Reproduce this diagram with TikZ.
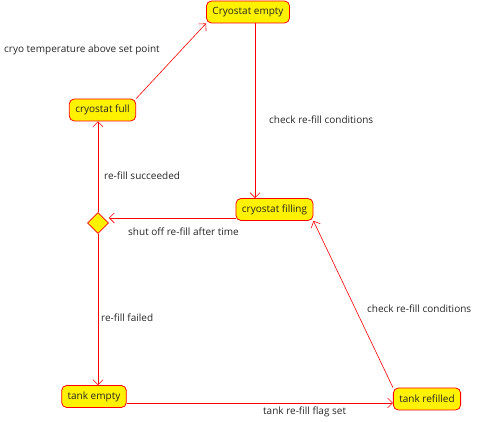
\documentclass[tikz,border=0pt]{standalone}
\usepackage{fontspec}
\setmainfont{Open Sans}
\usetikzlibrary{shapes.geometric,arrows.meta}

\tikzset{
    state/.style={rectangle, rounded corners=5pt, draw=red, fill=yellow, line width=0.8pt,
        minimum height=22pt, inner xsep=6pt, text=black!85},
    choicebox/.style={diamond, draw=red, fill=yellow, line width=0.8pt, minimum size=21pt, inner sep=0pt},
    edge/.style={red, line width=0.6pt, -{Straight Barb[length=5pt,width=10pt]}},
    lbl/.style={anchor=west, inner sep=0pt, text=black!85}
}

\begin{document}
\begin{tikzpicture}[x=1pt, y=-1pt, font=\fontsize{10}{12}\selectfont]
    \useasboundingbox (0,0) rectangle (480,422);

    % Draw nodes
    \node[state] (cempty) at (248, 12) {Cryostat empty};
    \node[state] (cfull) at (102.5, 110) {cryostat full};
    \node[state] (cfilling) at (274.5, 209.5) {cryostat filling};
    \node[choicebox] (choice) at (98, 223) {};
    \node[state] (tempty) at (94, 396.5) {tank empty};
    \node[state] (trefilled) at (427, 399) {tank refilled};

    % Draw edges
    \draw[edge] (cfull.north east) -- (cempty.south west);
    \draw[edge] ([xshift=7pt]cempty.south) -- ([xshift=7pt]cempty.south |- cfilling.north);
    \draw[edge] ([yshift=-8.5pt]cfilling.west) -- ([yshift=-8.5pt]cfilling.west -| choice.east);
    \draw[edge] (choice.north) -- (choice.north |- cfull.south);
    \draw[edge] (choice.south) -- (choice.south |- tempty.north);
    \draw[edge] ([yshift=-6.5pt]tempty.east) -- ([yshift=-6.5pt]tempty.east -| trefilled.west);
    \draw[edge] (trefilled.north west) -- (cfilling.south east);

    % Edge labels
    \node[lbl] (ltemp) at (4, 50) {cryo temperature above set point};
    \node[lbl] (lcheckA) at (269, 120) {check re-fill conditions};
    \node[lbl] (lsucc) at (104, 176) {re-fill succeeded};
    \node[lbl] (lshut) at (128, 232) {shut off re-fill after time};
    \node[lbl] (lfail) at (101, 318) {re-fill failed};
    \node[lbl] (lcheckB) at (367, 309) {check re-fill conditions};
    \node[lbl] (lflag) at (263, 412) {tank re-fill flag set};
\end{tikzpicture}
\end{document}
